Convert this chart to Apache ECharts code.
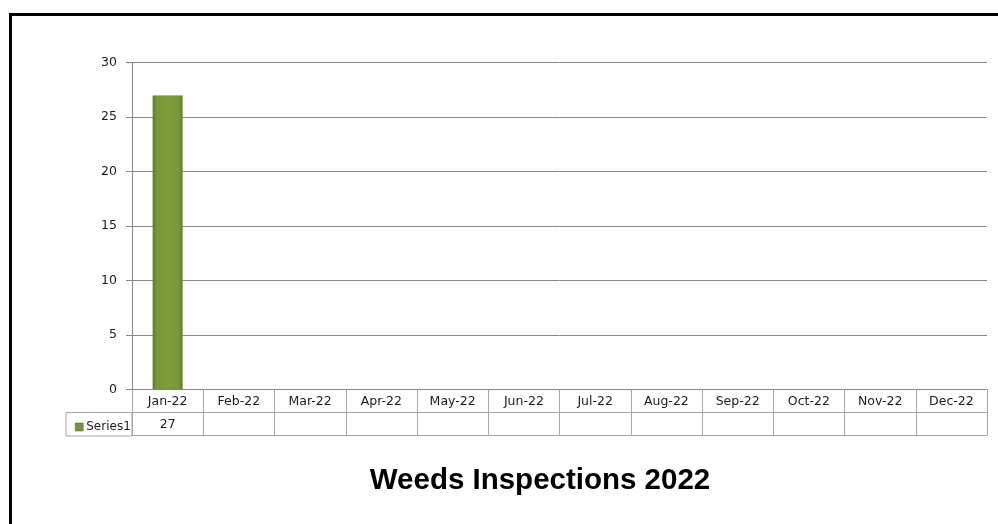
<!DOCTYPE html>
<html>
<head>
<meta charset="utf-8">
<script src="https://cdn.jsdelivr.net/npm/echarts@6/dist/echarts.min.js"></script>
<style>
html,body{margin:0;padding:0;background:#fff;}
#chart{width:998px;height:524px;}
</style>
</head>
<body>
<div id="chart"></div>
<script>
const categories = ['Jan-22','Feb-22','Mar-22','Apr-22','May-22','Jun-22','Jul-22','Aug-22','Sep-22','Oct-22','Nov-22','Dec-22'];
const series1 = [27, null, null, null, null, null, null, null, null, null, null, null];
const seriesName = 'Series1';
const yTicks = [0, 5, 10, 15, 20, 25, 30];
const chartTitle = 'Weeds Inspections 2022';

const chart = echarts.init(document.getElementById('chart'), null, {renderer: 'canvas'});
const tableLine = '#a6a6a6';
const labelFont = {fontFamily: 'DejaVu Sans', fontSize: 12.5, color: '#1a1a1a'};

const option = {
  animation: false,
  backgroundColor: '#fff',
  title: {
    text: chartTitle,
    left: 535, top: 461, textAlign: 'center',
    textStyle: {fontFamily: 'Liberation Sans', fontWeight: 'bold', fontSize: 29.5, color: '#000'}
  },
  legend: {
    data: [seriesName],
    left: 70, top: 416,
    icon: 'rect', itemWidth: 8, itemHeight: 8, itemGap: 3,
    textStyle: {fontFamily: 'DejaVu Sans', fontSize: 12, color: '#1a1a1a', padding: [0,0,0,-2]},
    itemStyle: {color: '#77933C', borderColor: '#4f6228', borderWidth: 0.5}
  },
  grid: {left: 132, right: 11, top: 62.7, bottom: 134.5, containLabel: false},
  xAxis: [
    {
      type: 'category', data: categories, position: 'bottom', boundaryGap: true,
      axisLine: {show: true, lineStyle: {color: '#868686', width: 1}},
      axisTick: {show: true, interval: 0, length: 46, lineStyle: {color: tableLine}},
      axisLabel: Object.assign({interval: 0, margin: 6}, labelFont),
      splitLine: {show: false}
    },
    {
      type: 'category', data: categories, position: 'bottom', offset: 22.5, boundaryGap: true,
      axisLine: {show: true, lineStyle: {color: tableLine, width: 1}},
      axisTick: {show: false},
      axisLabel: Object.assign({interval: 0, margin: 6,
        formatter: (v, i) => (series1[i] == null ? '' : String(series1[i]))}, labelFont),
      splitLine: {show: false}
    },
    {
      type: 'category', data: categories, position: 'bottom', offset: 46, boundaryGap: true,
      axisLine: {show: true, lineStyle: {color: tableLine, width: 1}},
      axisTick: {show: false},
      axisLabel: {show: false},
      splitLine: {show: false}
    }
  ],
  yAxis: {
    type: 'value', min: yTicks[0], max: yTicks[yTicks.length - 1], interval: 5,
    axisLine: {show: true, lineStyle: {color: '#868686'}},
    axisTick: {show: true, length: 6, lineStyle: {color: '#868686'}},
    axisLabel: Object.assign({margin: 15}, labelFont),
    splitLine: {show: true, lineStyle: {color: '#868686', width: 1}}
  },
  series: [{
    name: seriesName,
    type: 'bar',
    data: series1,
    barWidth: '42%',
    itemStyle: {
      color: new echarts.graphic.LinearGradient(0, 0, 1, 0, [
        {offset: 0, color: '#5a7628'},
        {offset: 0.12, color: '#779838'},
        {offset: 0.5, color: '#7f9f3d'},
        {offset: 0.88, color: '#779838'},
        {offset: 1, color: '#5a7628'}
      ]),
      borderColor: '#6b8a30', borderWidth: 0.5
    }
  }],
  graphic: [
    {type: 'rect', shape: {x: 66, y: 412.5, width: 66, height: 23.5},
     style: {fill: 'none', stroke: tableLine, lineWidth: 1}, z: 0},
    {type: 'rect', shape: {x: 9, y: 13, width: 989, height: 3}, style: {fill: '#000'}},
    {type: 'rect', shape: {x: 9, y: 13, width: 3, height: 511}, style: {fill: '#000'}}
  ]
};
chart.setOption(option);
</script>
</body>
</html>
